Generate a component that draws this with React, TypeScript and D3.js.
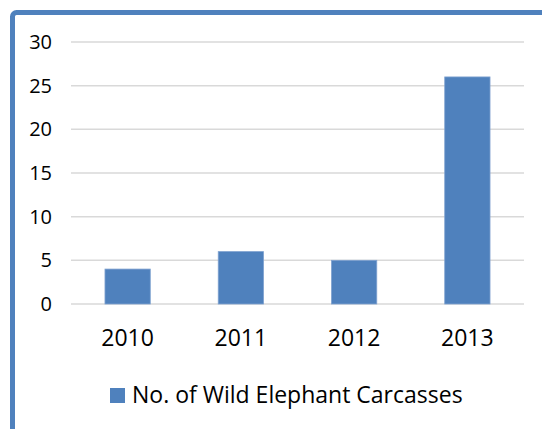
import { useEffect, useRef } from 'react';
import * as d3 from 'd3';

const years = ['2010', '2011', '2012', '2013'];
const carcasses = [4, 6, 5, 26];
const yTicks = [0, 5, 10, 15, 20, 25, 30];
const seriesName = 'No. of Wild Elephant Carcasses';

const W = 542;
const H = 429;
const blue = '#4F81BD';
const font = '"Open Sans", sans-serif';

export default function App() {
  const svgRef = useRef<SVGSVGElement>(null);

  useEffect(() => {
    if (!svgRef.current) return;
    const svg = d3.select(svgRef.current);
    svg.selectAll('*').remove();

    svg.append('rect')
      .attr('width', W)
      .attr('height', H)
      .attr('fill', '#fff');

    const plot = { left: 71, right: 524, top: 42, bottom: 304 };

    const x = d3.scaleBand<string>()
      .domain(years)
      .range([plot.left, plot.right])
      .paddingInner(0.6)
      .paddingOuter(0.3);

    const y = d3.scaleLinear()
      .domain([0, 30])
      .range([plot.bottom, plot.top]);

    // gridlines
    svg.append('g')
      .selectAll('line')
      .data(yTicks)
      .join('line')
      .attr('x1', plot.left)
      .attr('x2', plot.right)
      .attr('y1', d => y(d))
      .attr('y2', d => y(d))
      .attr('stroke', '#D9D9D9')
      .attr('stroke-width', 1.5);

    // y tick labels
    svg.append('g')
      .selectAll('text')
      .data(yTicks)
      .join('text')
      .attr('x', 52)
      .attr('y', d => y(d) + 7)
      .attr('text-anchor', 'end')
      .attr('font-family', font)
      .attr('font-size', '20px')
      .attr('fill', '#000')
      .text(d => d);

    // bars
    svg.append('g')
      .selectAll('rect')
      .data(years)
      .join('rect')
      .attr('x', d => x(d)!)
      .attr('y', (d, i) => y(carcasses[i]))
      .attr('width', x.bandwidth())
      .attr('height', (d, i) => y(0) - y(carcasses[i]))
      .attr('fill', blue)
      .attr('stroke', '#7FA2D0')
      .attr('stroke-width', 0.8);

    // x labels
    svg.append('g')
      .selectAll('text')
      .data(years)
      .join('text')
      .attr('x', d => x(d)! + x.bandwidth() / 2)
      .attr('y', 346)
      .attr('text-anchor', 'middle')
      .attr('font-family', font)
      .attr('font-size', '23px')
      .attr('fill', '#000')
      .text(d => d);

    // legend
    const legend = svg.append('g').attr('transform', 'translate(110,388)');
    legend.append('rect')
      .attr('width', 15)
      .attr('height', 15)
      .attr('fill', blue);
    legend.append('text')
      .attr('x', 22)
      .attr('y', 14.5)
      .attr('font-family', font)
      .attr('font-size', '23px')
      .attr('fill', '#000')
      .text(seriesName);

    // frame, cut off at right and bottom
    svg.append('rect')
      .attr('x', 12.5)
      .attr('y', 12.5)
      .attr('width', 700)
      .attr('height', 700)
      .attr('rx', 4)
      .attr('fill', 'none')
      .attr('stroke', blue)
      .attr('stroke-width', 5);
  }, []);

  return (
    <div style={{ position: 'absolute', left: 0, top: 0, width: W, height: H, overflow: 'hidden' }}>
      <svg ref={svgRef} width={W} height={H} style={{ display: 'block' }} />
    </div>
  );
}
